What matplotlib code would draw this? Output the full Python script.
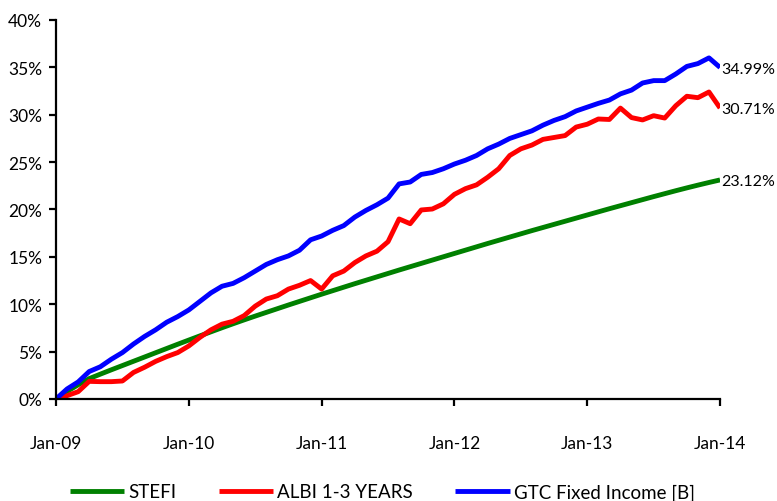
import matplotlib
matplotlib.use('Agg')
import matplotlib.pyplot as plt
from matplotlib.ticker import FuncFormatter

plt.rcParams['font.family'] = ['Lato', 'DejaVu Sans']

# month index 0 = Jan-09 ... 60 = Jan-14
YEAR_LABELS = ['Jan-09', 'Jan-10', 'Jan-11', 'Jan-12', 'Jan-13', 'Jan-14']

stefi = [0.00, 0.80, 1.50, 2.15, 2.62, 3.08, 3.53, 3.98, 4.43, 4.88,
         5.33, 5.78, 6.22, 6.66, 7.09, 7.52, 7.94, 8.35, 8.75, 9.14,
         9.53, 9.92, 10.30, 10.68, 11.06, 11.43, 11.80, 12.17, 12.53, 12.89,
         13.25, 13.61, 13.96, 14.31, 14.66, 15.01, 15.36, 15.71, 16.06, 16.41,
         16.75, 17.09, 17.43, 17.77, 18.10, 18.43, 18.76, 19.09, 19.42, 19.75,
         20.08, 20.40, 20.72, 21.04, 21.36, 21.67, 21.98, 22.28, 22.57, 22.85,
         23.12]

albi = [0.00, 0.35, 0.77, 1.86, 1.83, 1.83, 1.90, 2.80, 3.35, 3.97,
        4.47, 4.90, 5.60, 6.50, 7.30, 7.90, 8.20, 8.80, 9.80, 10.55,
        10.90, 11.60, 12.00, 12.50, 11.60, 13.00, 13.50, 14.40, 15.10, 15.60,
        16.60, 19.00, 18.50, 19.95, 20.05, 20.60, 21.60, 22.20, 22.60, 23.40,
        24.30, 25.70, 26.40, 26.80, 27.40, 27.60, 27.80, 28.70, 29.00, 29.55,
        29.50, 30.70, 29.70, 29.45, 29.90, 29.65, 30.95, 31.95, 31.80, 32.40,
        30.71]

gtc = [0.00, 1.06, 1.80, 2.90, 3.40, 4.20, 4.90, 5.80, 6.60, 7.30,
       8.10, 8.70, 9.40, 10.30, 11.20, 11.90, 12.20, 12.80, 13.50, 14.20,
       14.70, 15.10, 15.70, 16.80, 17.20, 17.80, 18.30, 19.20, 19.90, 20.50,
       21.20, 22.70, 22.90, 23.70, 23.90, 24.30, 24.80, 25.20, 25.70, 26.40,
       26.90, 27.50, 27.90, 28.30, 28.90, 29.40, 29.80, 30.40, 30.80, 31.20,
       31.55, 32.20, 32.60, 33.35, 33.60, 33.60, 34.30, 35.10, 35.40, 36.00,
       34.99]

months = list(range(len(stefi)))

fig = plt.figure(figsize=(7.77, 5.02), dpi=100)
ax = fig.add_axes([0.0721, 0.2032, 0.8546, 0.755])

ax.plot(months, stefi, color='#008000', lw=3.5, label='STEFI', solid_capstyle='butt')
ax.plot(months, albi, color='#ff0000', lw=3.5, label='ALBI 1-3 YEARS', solid_capstyle='butt')
ax.plot(months, gtc, color='#0000ff', lw=3.5, label='GTC Fixed Income [B]', solid_capstyle='butt')

for series in (gtc, albi, stefi):
    ax.annotate('%.2f%%' % series[-1], xy=(months[-1], series[-1]), xytext=(1, -1),
                textcoords='offset points', va='center', ha='left', fontsize=11.5)

ax.set_xlim(0, 60)
ax.set_ylim(0, 40)
ax.set_xticks(range(0, 61, 12))
ax.set_xticklabels(YEAR_LABELS)
ax.set_yticks(range(0, 41, 5))
ax.yaxis.set_major_formatter(FuncFormatter(lambda v, p: '%d%%' % v))

for s in ('top', 'right'):
    ax.spines[s].set_visible(False)
for s in ('left', 'bottom'):
    ax.spines[s].set_linewidth(1.6)
ax.tick_params(axis='both', length=5, width=1.6, labelsize=12.5, colors='black')
ax.tick_params(axis='x', pad=21)
ax.tick_params(axis='y', pad=5)

fig.legend(loc='center', bbox_to_anchor=(0.492, 0.018), ncol=3, frameon=False,
           fontsize=13.5, handlelength=2.9, columnspacing=2.25, handletextpad=0.22)

fig.savefig('out.png', dpi=100)
